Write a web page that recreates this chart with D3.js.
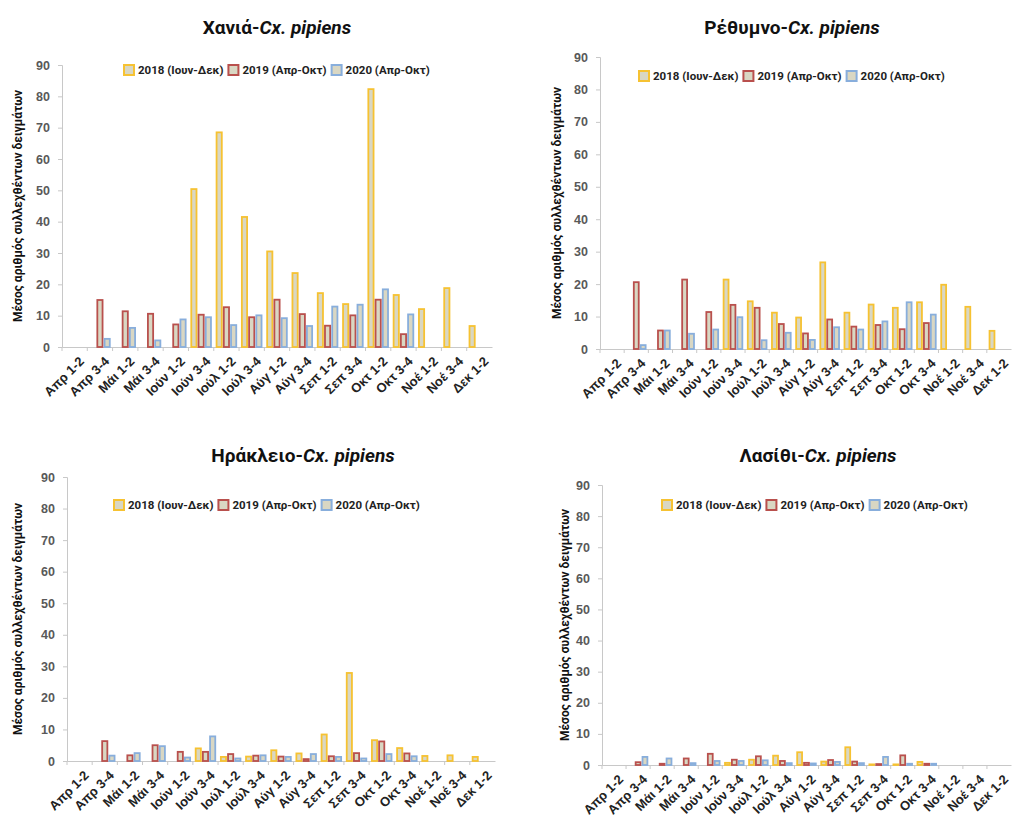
<!DOCTYPE html>
<html>
<head>
<meta charset="utf-8">
<script src="https://cdn.jsdelivr.net/npm/d3@7"></script>
<style>
  body { margin: 0; background: #fff; }
  svg { font-family: Roboto, "Open Sans", sans-serif; }
</style>
</head>
<body>
<svg width="1020" height="816"></svg>
<script>
// two-week periods on the x axis
var periods = ["Απρ 1-2", "Απρ 3-4", "Μάι 1-2", "Μάι 3-4", "Ιούν 1-2", "Ιούν 3-4", "Ιούλ 1-2", "Ιούλ 3-4",
    "Αύγ 1-2", "Αύγ 3-4", "Σεπ 1-2", "Σεπ 3-4", "Οκτ 1-2", "Οκτ 3-4", "Νοέ 1-2", "Νοέ 3-4", "Δεκ 1-2"];
var seriesNames = ["2018 (Ιουν-Δεκ)", "2019 (Απρ-Οκτ)", "2020 (Απρ-Οκτ)"];
var yTicks = [0, 10, 20, 30, 40, 50, 60, 70, 80, 90];

// null = no sampling in that period
var chania2018 = [null, null, null, null, null, 50.4, 68.5, 41.5, 30.5, 23.6, 17.2, 13.7, 82.3, 16.6, 12.1, 18.8, 6.7];
var chania2019 = [null, 15.0, 11.4, 10.6, 7.2, 10.3, 12.7, 9.5, 15.1, 10.5, 6.8, 10.1, 15.1, 4.1, null, null, null];
var chania2020 = [null, 2.6, 6.1, 2.1, 8.8, 9.5, 7.0, 10.1, 9.2, 6.7, 12.9, 13.5, 18.4, 10.4, null, null, null];

var rethymno2018 = [null, null, null, null, null, 21.4, 14.7, 11.2, 9.7, 26.7, 11.2, 13.7, 12.7, 14.4, 19.8, 13.0, 5.6];
var rethymno2019 = [null, 20.6, 5.7, 21.4, 11.4, 13.6, 12.7, 7.7, 4.8, 9.1, 6.9, 7.4, 6.1, 8.0, null, null, null];
var rethymno2020 = [null, 1.2, 5.7, 4.7, 6.0, 9.8, 2.7, 5.0, 2.8, 6.7, 6.0, 8.5, 14.4, 10.6, null, null, null];

var heraklio2018 = [null, null, null, null, null, 4.0, 1.3, 1.4, 3.4, 2.4, 8.4, 27.9, 6.6, 4.1, 1.6, 1.8, 1.3];
var heraklio2019 = [null, 6.3, 1.8, 5.0, 2.9, 2.9, 2.2, 1.7, 1.4, 0.6, 1.5, 2.5, 6.2, 2.4, null, null, null];
var heraklio2020 = [null, 1.7, 2.5, 4.7, 1.1, 7.8, 0.8, 1.8, 1.3, 2.2, 1.3, 0.8, 2.2, 1.5, null, null, null];

var lasithi2018 = [null, null, null, null, null, 0.7, 1.7, 3.0, 4.1, 1.1, 5.7, 0.2, 0.2, 1.0, null, null, null];
var lasithi2019 = [null, 0.9, 0.4, 2.1, 3.6, 1.7, 2.8, 1.3, 0.7, 1.6, 1.1, 0.3, 3.1, 0.4, null, null, null];
var lasithi2020 = [null, 2.6, 2.1, 0.6, 1.3, 1.3, 1.5, 0.6, 0.5, 1.0, 0.6, 2.6, 0.4, 0.4, null, null, null];

var strokeColors = ["#f6c232", "#b9504d", "#88aedc"];
var barFill = "#d9d7c3";

var svg = d3.select("svg");

var panels = [
    { name: "Χανιά-", data: [chania2018, chania2019, chania2020],
      left: 62, right: 492, top: 65, bottom: 347, titleX: 277, titleY: 34, legX: 123, legY: 70, labX: 22 },
    { name: "Ρέθυμνο-", data: [rethymno2018, rethymno2019, rethymno2020],
      left: 600, right: 1011, top: 57, bottom: 349, titleX: 792, titleY: 34, legX: 638, legY: 76, labX: 561 },
    { name: "Ηράκλειο-", data: [heraklio2018, heraklio2019, heraklio2020],
      left: 67, right: 495, top: 477, bottom: 761, titleX: 303, titleY: 462, legX: 113, legY: 505, labX: 22 },
    { name: "Λασίθι-", data: [lasithi2018, lasithi2019, lasithi2020],
      left: 602, right: 1011, top: 485, bottom: 765, titleX: 818, titleY: 462, legX: 661, legY: 505, labX: 569 }
];

panels.forEach(drawPanel);

function drawPanel(p) {
    var x = d3.scaleBand().domain(periods).range([p.left, p.right]);
    var xs = d3.scaleBand().domain([0, 1, 2]).range([0, x.bandwidth()]).paddingOuter(0.25);
    var y = d3.scaleLinear().domain([0, 90]).range([p.bottom, p.top]);

    // title
    var t = svg.append("text")
        .attr("x", p.titleX).attr("y", p.titleY)
        .attr("text-anchor", "middle")
        .attr("font-size", "19px").attr("font-weight", "bold")
        .attr("fill", "#111");
    t.append("tspan").text(p.name);
    t.append("tspan").attr("font-style", "italic").text("Cx. pipiens");

    // y axis
    var gy = svg.append("g")
        .attr("transform", "translate(" + p.left + ",0)")
        .call(d3.axisLeft(y).tickValues(yTicks).tickSize(4).tickPadding(8));
    gy.selectAll("path, line").attr("stroke", "#c8c8c8");
    gy.selectAll("text").attr("font-size", "12.5px").attr("font-weight", "bold").attr("fill", "#595959");

    // x axis
    var gx = svg.append("g")
        .attr("transform", "translate(0," + p.bottom + ")")
        .call(d3.axisBottom(x).tickSize(0).tickSizeOuter(0));
    gx.select(".domain").attr("stroke", "#c8c8c8");
    gx.selectAll(".tick").each(function () {
        d3.select(this).append("line")
            .attr("x1", -x.bandwidth() / 2).attr("x2", -x.bandwidth() / 2)
            .attr("y1", 0).attr("y2", 4)
            .attr("stroke", "#c8c8c8");
    });
    gx.selectAll("text")
        .attr("font-size", "13px").attr("font-weight", "bold").attr("fill", "#222")
        .attr("text-anchor", "end")
        .attr("dy", null)
        .attr("transform", "translate(8,13) rotate(-45)");

    // y axis title
    svg.append("text")
        .attr("transform", "translate(" + p.labX + "," + (p.top + p.bottom) / 2 + ") rotate(-90)")
        .attr("text-anchor", "middle")
        .attr("font-size", "12px").attr("font-weight", "bold").attr("fill", "#111")
        .text("Μέσος αριθμός συλλεχθέντων δειγμάτων");

    // bars
    p.data.forEach(function (vals, s) {
        var rows = periods.map(function (c, i) { return { period: c, value: vals[i] }; })
            .filter(function (d) { return d.value !== null; });
        svg.append("g").selectAll("rect")
            .data(rows)
            .enter()
            .append("rect")
            .attr("x", function (d) { return x(d.period) + xs(s) + 1; })
            .attr("y", function (d) { return y(d.value); })
            .attr("width", xs.bandwidth() - 2)
            .attr("height", function (d) { return p.bottom - y(d.value); })
            .attr("fill", barFill)
            .attr("stroke", strokeColors[s])
            .attr("stroke-width", 1.8);
    });

    // legend
    var lg = svg.append("g").attr("transform", "translate(" + p.legX + "," + p.legY + ")");
    var cx = 0;
    seriesNames.forEach(function (name, s) {
        lg.append("rect")
            .attr("x", cx + 1).attr("y", -5)
            .attr("width", 10).attr("height", 10)
            .attr("fill", barFill)
            .attr("stroke", strokeColors[s]).attr("stroke-width", 2);
        var tx = lg.append("text")
            .attr("x", cx + 15).attr("y", 4)
            .attr("font-size", "11.5px").attr("font-weight", "bold").attr("fill", "#222")
            .text(name);
        cx += 15 + tx.node().getComputedTextLength() + 4;
    });
}
</script>
</body>
</html>
